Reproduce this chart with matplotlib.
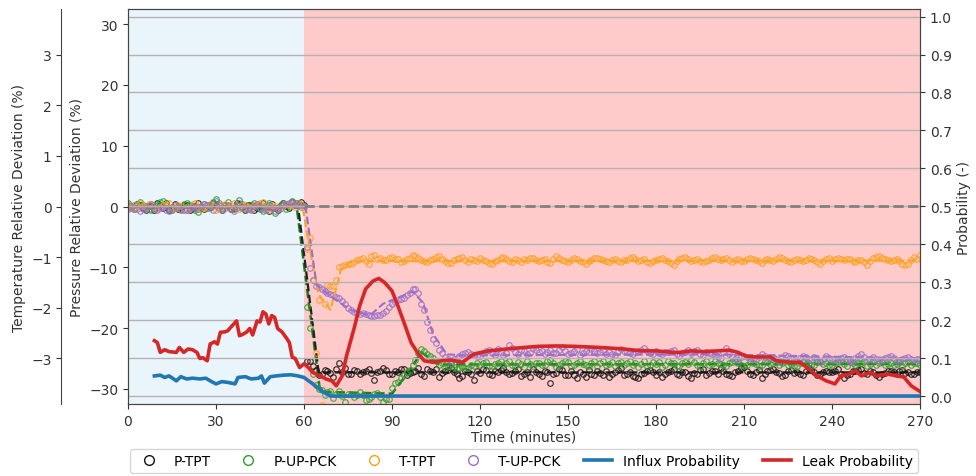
import numpy as np
import matplotlib
matplotlib.use("Agg")
import matplotlib.pyplot as plt
from matplotlib.lines import Line2D

# ---------------- data ----------------
time_min = np.arange(0, 271, 1)  # sample times (minutes), 271 samples

# Pressure relative deviation (%), one value per minute
p_tpt = [0.3, -0.1, -0.4, 0.4, 0.2, -0.3, -0.6, 0.1, 0.1, -0.5,
         0.5, 0.2, -0.2, 0.6, -0.5, -0.1, 0.4, -0.4, -0.1, 0.3,
         0.2, -0.5, -0.3, 0.1, 0.6, -0.2, -0.4, 0.3, -0.1, 0.5,
         0.3, -0.3, -0.6, 0.2, 0.1, -0.4, -0.2, 0.5, 0.4, -0.1,
         -0.5, 0.3, 0.2, -0.6, -0.3, 0.1, 0.5, -0.2, -0.7, 0.4,
         -0.2, -0.5, 0.3, 0.6, 0.1, -0.3, 0.7, 0.2, 0.5, 0.8,
         0.2, -25.4, -25.4, -26.3, -26.9, -27.8, -27.6, -26.9, -27.0, -27.4,
         -28.1, -26.8, -25.8, -27.3, -26.6, -27.5, -27.5, -26.9, -27.0, -27.6,
         -27.3, -27.0, -26.8, -27.4, -28.5, -27.2, -27.1, -26.6, -26.9, -27.5,
         -27.6, -27.1, -27.2, -26.8, -26.7, -27.7, -27.4, -27.2, -27.0, -26.6,
         -27.5, -27.9, -26.8, -27.1, -27.3, -26.7, -28.0, -27.4, -27.1, -26.9,
         -26.6, -27.3, -27.6, -28.2, -27.9, -27.0, -27.2, -27.5, -28.6, -27.1,
         -27.4, -26.8, -26.9, -27.5, -27.8, -27.0, -27.2, -26.9, -26.5, -27.3,
         -27.6, -27.4, -27.0, -26.7, -27.9, -27.5, -27.3, -28.0, -26.8, -27.2,
         -27.5, -27.9, -27.1, -27.3, -29.0, -27.6, -27.4, -26.8, -26.9, -27.7,
         -27.7, -27.1, -27.8, -28.2, -27.2, -27.5, -28.1, -26.9, -27.6, -27.8,
         -27.0, -27.4, -27.8, -27.1, -28.0, -27.6, -27.3, -26.9, -26.6, -27.8,
         -27.5, -27.2, -27.9, -28.1, -28.2, -27.6, -27.4, -27.0, -26.9, -27.3,
         -27.7, -27.2, -28.0, -27.6, -27.3, -27.0, -26.7, -27.5, -27.8, -27.2,
         -27.2, -27.9, -28.3, -27.4, -27.5, -26.9, -26.8, -27.7, -27.4, -27.1,
         -27.1, -27.5, -26.6, -27.0, -27.5, -27.8, -27.9, -27.2, -27.0, -26.6,
         -26.4, -27.1, -27.6, -27.8, -27.2, -26.9, -28.3, -27.5, -27.0, -26.9,
         -26.8, -27.2, -27.4, -27.9, -27.7, -27.0, -26.9, -27.4, -27.3, -27.6,
         -27.8, -27.1, -26.5, -26.9, -27.2, -27.8, -27.6, -27.3, -27.0, -27.2,
         -27.3, -27.0, -26.7, -27.5, -28.2, -27.8, -27.5, -27.0, -27.1, -26.9,
         -26.8, -27.4, -27.6, -27.0, -27.2, -27.7, -28.0, -27.5, -27.4, -27.0,
         -27.1, -27.3, -27.5, -27.0, -26.9, -27.4, -27.3, -27.5, -27.6, -27.3,
         -27.2]

p_up_pck = [0.5, 0.1, -0.3, 0.4, 0.8, 0.3, 0.1, -0.4, -0.6, 0.2,
            0.4, 0.7, 0.9, 0.2, -0.2, -0.5, 0.3, 0.1, -0.5, 0.4,
            0.6, 0.2, -0.1, -0.6, -0.9, 0.1, 0.4, -0.3, 0.2, 0.8,
            1.3, 0.5, -0.3, 0.2, 0.7, -0.2, -0.4, 0.3, 1.1, 0.4,
            -0.6, -0.2, 0.3, 0.5, 0.1, -0.4, -0.8, 0.2, 0.5, -0.3,
            -1.0, -0.4, 0.2, 0.6, -0.4, 0.1, 0.9, 0.5, 0.6, 0.3,
            0.1, -16.5, -20.0, -27.5, -29.4, -30.0, -30.2, -31.0, -30.6, -30.4,
            -31.5, -30.8, -30.3, -31.2, -32.2, -30.9, -30.8, -31.4, -31.1, -30.5,
            -31.0, -31.9, -31.6, -31.3, -30.9, -30.7, -31.3, -32.1, -31.7, -31.6,
            -29.8, -29.0, -28.8, -28.3, -27.8, -27.3, -26.9, -26.0, -25.3, -24.1,
            -23.4, -23.8, -24.2, -24.6, -24.9, -25.5, -26.1, -25.8, -26.6, -26.2,
            -25.9, -26.4, -26.8, -26.5, -26.2, -26.6, -26.5, -26.0, -26.3, -25.8,
            -26.0, -25.7, -25.6, -26.2, -26.3, -25.9, -25.8, -25.5, -26.1, -25.7,
            -25.4, -26.0, -26.2, -25.6, -25.9, -26.4, -25.5, -25.9, -26.3, -25.8,
            -25.7, -26.1, -26.0, -25.5, -25.3, -25.8, -26.4, -26.0, -25.8, -25.4,
            -25.6, -26.2, -26.1, -25.7, -25.4, -25.9, -26.0, -26.3, -25.7, -25.5,
            -26.2, -25.8, -25.5, -26.0, -25.9, -25.6, -26.3, -25.8, -25.6, -26.1,
            -25.8, -25.4, -26.0, -25.7, -26.4, -25.9, -25.4, -26.2, -26.1, -25.6,
            -25.9, -25.6, -26.4, -26.0, -25.5, -25.8, -25.8, -26.3, -26.2, -25.7,
            -25.6, -25.9, -25.3, -25.6, -26.0, -26.2, -25.7, -25.5, -26.1, -25.9,
            -25.4, -25.7, -25.9, -26.1, -26.2, -25.8, -25.6, -25.4, -25.8, -26.0,
            -26.3, -26.1, -25.5, -25.7, -25.9, -26.2, -26.0, -25.5, -25.6, -25.9,
            -25.8, -25.6, -26.1, -25.8, -25.4, -26.0, -25.9, -26.3, -26.2, -25.7,
            -25.6, -25.9, -25.7, -26.1, -26.0, -25.6, -25.5, -25.9, -25.8, -26.0,
            -26.1, -25.8, -25.6, -25.4, -25.9, -26.2, -25.3, -25.7, -26.0, -25.8,
            -25.7, -25.5, -26.2, -25.9, -25.5, -26.1, -25.8, -25.6, -26.1, -25.9,
            -25.7, -26.0, -25.9, -25.6, -26.2, -25.8, -25.6, -26.1, -25.8, -25.7,
            -26.0]

# Temperature relative deviation (%), one value per minute
t_tpt = [0.03, -0.01, -0.04, 0.02, 0.06, 0.01, -0.02, 0.04, 0.05, -0.03,
         -0.05, 0.00, 0.02, 0.05, 0.07, -0.02, -0.03, 0.03, 0.01, -0.04,
         -0.06, -0.02, 0.04, 0.06, 0.00, -0.04, -0.03, 0.02, 0.05, 0.01,
         -0.07, -0.03, 0.03, 0.05, -0.01, 0.02, 0.06, -0.02, -0.04, 0.03,
         0.02, -0.01, -0.05, 0.02, 0.04, 0.07, 0.08, -0.02, -0.06, 0.03,
         0.01, -0.04, -0.03, 0.01, 0.05, 0.02, 0.03, -0.01, 0.06, 0.04,
         -0.02, -0.83, -0.63, -1.45, -2.90, -1.85, -3.92, -1.92, -1.55, -1.56,
         -1.56, -1.46, -1.20, -1.17, -1.16, -1.13, -1.13, -1.09, -1.06, -1.04,
         -1.02, -1.08, -1.13, -0.98, -0.95, -1.03, -1.02, -1.05, -1.06, -1.01,
         -0.99, -1.04, -1.04, -1.09, -1.08, -1.03, -1.01, -0.96, -0.97, -1.02,
         -1.05, -1.08, -1.10, -1.06, -1.03, -0.99, -0.98, -1.04, -1.07, -1.11,
         -1.12, -1.06, -1.04, -1.02, -1.00, -1.05, -1.09, -1.03, -1.06, -1.08,
         -1.02, -1.05, -1.08, -1.12, -1.14, -1.07, -1.05, -1.01, -0.99, -1.04,
         -1.07, -1.09, -1.03, -1.06, -1.10, -1.04, -1.06, -1.02, -1.01, -1.05,
         -1.08, -1.06, -1.04, -1.09, -1.11, -1.03, -0.98, -1.02, -1.06, -1.08,
         -1.09, -1.05, -1.02, -1.04, -1.07, -1.10, -1.13, -1.08, -1.05, -1.02,
         -1.01, -1.04, -1.06, -1.08, -1.09, -1.05, -1.03, -1.07, -1.10, -1.06,
         -1.05, -1.01, -0.99, -1.04, -1.07, -1.05, -1.04, -1.09, -1.12, -1.08,
         -1.06, -1.03, -1.02, -1.05, -1.08, -1.12, -1.15, -1.08, -1.04, -1.01,
         -1.00, -1.04, -1.07, -1.05, -1.03, -1.07, -1.10, -1.08, -1.05, -1.02,
         -0.99, -1.03, -1.06, -1.04, -1.02, -1.06, -1.09, -1.06, -1.04, -1.07,
         -1.08, -1.04, -1.01, -1.03, -1.05, -1.08, -1.11, -1.06, -1.03, -1.05,
         -1.07, -1.03, -1.00, -1.02, -1.05, -1.08, -1.10, -1.06, -1.04, -1.06,
         -1.08, -1.05, -1.02, -1.04, -1.06, -1.10, -1.13, -1.07, -1.04, -1.02,
         -1.08, -1.04, -1.01, -1.03, -1.06, -1.04, -1.03, -1.07, -1.10, -1.06,
         -1.05, -1.10, -1.15, -1.07, -1.02, -1.00, -0.98, -1.01, -1.04, -1.06,
         -1.07, -1.05, -1.03, -1.08, -1.14, -1.16, -1.13, -1.05, -0.99, -1.03,
         -0.96]

t_up_pck = [-0.05, -0.02, 0.02, -0.04, -0.08, -0.05, -0.03, 0.01, 0.04, -0.02,
            -0.06, -0.03, -0.01, -0.06, -0.09, -0.04, 0.03, -0.01, -0.04, -0.07,
            -0.07, -0.03, 0.01, -0.02, -0.05, 0.01, 0.05, 0.02, -0.02, -0.06,
            0.10, 0.03, -0.06, -0.02, 0.03, -0.04, -0.08, -0.01, 0.06, -0.03,
            -0.03, -0.05, -0.07, 0.01, 0.04, -0.02, -0.05, -0.06, 0.02, -0.03,
            -0.08, -0.04, -0.02, 0.02, 0.05, 0.07, 0.08, 0.02, 0.03, -0.01,
            0.01, -0.80, -1.22, -1.45, -1.56, -1.58, -1.62, -1.66, -1.70, -1.72,
            -1.75, -1.78, -1.80, -1.86, -1.93, -2.00, -2.05, -2.08, -2.10, -2.12,
            -2.11, -2.13, -2.15, -2.17, -2.16, -2.15, -2.14, -2.10, -2.06, -1.98,
            -1.92, -1.88, -1.85, -1.82, -1.80, -1.74, -1.70, -1.62, -1.63, -1.70,
            -1.92, -2.05, -2.28, -2.44, -2.62, -2.70, -2.83, -2.90, -2.98, -3.02,
            -3.05, -3.02, -2.99, -2.95, -2.92, -2.90, -2.88, -2.91, -2.94, -2.96,
            -2.95, -2.90, -2.86, -2.84, -2.90, -2.93, -2.82, -2.87, -2.93, -2.90,
            -2.74, -2.80, -2.88, -2.92, -2.84, -2.86, -2.91, -2.89, -2.80, -2.83,
            -2.87, -2.85, -2.92, -2.88, -2.83, -2.90, -2.89, -2.84, -2.78, -2.86,
            -2.91, -2.89, -2.86, -2.82, -2.94, -2.90, -2.85, -2.88, -2.81, -2.86,
            -2.90, -2.87, -2.84, -2.91, -2.88, -2.92, -2.93, -2.86, -2.82, -2.85,
            -2.87, -2.90, -2.91, -2.87, -2.85, -2.83, -2.79, -2.86, -2.89, -2.92,
            -2.86, -2.90, -2.92, -2.88, -2.88, -2.85, -2.83, -2.91, -2.95, -2.90,
            -2.87, -2.84, -2.90, -2.86, -2.84, -2.91, -2.93, -2.88, -2.89, -2.92,
            -2.94, -2.97, -3.00, -2.88, -2.79, -2.92, -2.97, -3.01, -3.03, -2.98,
            -2.95, -2.97, -2.99, -3.02, -3.04, -2.97, -2.92, -2.96, -3.01, -2.98,
            -2.97, -3.02, -3.06, -2.99, -2.93, -2.96, -3.00, -3.03, -3.05, -3.00,
            -2.96, -2.98, -3.02, -3.04, -2.98, -3.01, -3.07, -3.03, -2.95, -2.99,
            -3.01, -3.03, -3.04, -3.00, -2.97, -3.02, -3.08, -3.05, -2.99, -2.95,
            -2.92, -2.97, -3.03, -3.01, -2.98, -3.02, -3.06, -3.04, -3.00, -2.97,
            -2.96, -3.00, -3.05, -3.03, -3.02, -2.99, -2.98, -3.01, -3.04, -3.02,
            -3.01]

# Dashed trend lines
p_tpt_fit_t = [0, 58, 65, 270]
p_tpt_fit = [0.0, 0.0, -27.3, -27.3]
p_up_fit_t = [0, 57.5, 65.5, 90, 96, 100, 106, 270]
p_up_fit = [0.0, 0.0, -30.5, -30.8, -27.0, -24.0, -26.0, -25.9]
t_tpt_fit_t = [0, 59.5, 62, 65, 69, 71, 72.5, 76, 270]
t_tpt_fit = [0.0, 0.0, -0.84, -1.74, -2.04, -1.62, -1.26, -1.08, -1.07]
t_up_fit_t = [0, 60.5, 64.3, 70, 75.8, 82.5, 87, 92, 97, 100.6, 104, 108.7, 115, 200, 270]
t_up_fit = [0.0, 0.0, -1.55, -1.81, -2.04, -2.15, -1.92, -1.80, -1.68, -1.90,
            -2.52, -2.92, -2.94, -2.92, -3.00]

# Probabilities
influx_t = [9, 11, 12.5, 14, 16.5, 18, 20, 22, 24.5, 26.5,
            28.5, 30, 32, 34, 36.5, 37.5, 40, 42, 44.5, 45.5,
            46.5, 48.5, 50.5, 53, 55.5, 58, 60, 63, 66, 69, 270]
influx_p = [0.053, 0.055, 0.049, 0.053, 0.040, 0.051, 0.045, 0.047, 0.045, 0.047,
            0.038, 0.032, 0.038, 0.036, 0.032, 0.049, 0.051, 0.045, 0.047, 0.053,
            0.034, 0.051, 0.053, 0.055, 0.056, 0.053, 0.049, 0.032, 0.014, 0.0, 0.0]

leak_t = [9, 10, 11, 12.5, 14, 16.5, 17.5, 19, 20.5, 22,
          23.5, 24.5, 25.5, 27, 28, 29.5, 30.5, 31.5, 33, 34,
          35, 37, 38, 39, 40.5, 41.5, 42.5, 44, 45, 46,
          47, 48, 49, 50, 51, 52.5, 54, 55, 56, 57,
          58.5, 60, 61.5, 63, 65.5, 67.5, 69.5, 71, 73, 74.5,
          77, 79, 81, 83.5, 85.5, 87.5, 90, 92, 94.5, 96.5,
          99, 101, 104, 107, 110, 114, 118, 123, 129, 135,
          140, 146, 152, 158, 163, 169, 175, 180, 186, 188,
          192, 196, 201, 205, 208, 211, 214, 219, 221, 226,
          229, 231.5, 235, 238, 241, 243, 246, 248, 250, 253,
          255, 259, 262, 264.5, 267, 270]
leak_p = [0.146, 0.141, 0.115, 0.122, 0.117, 0.115, 0.128, 0.115, 0.124, 0.122,
          0.115, 0.099, 0.101, 0.093, 0.137, 0.143, 0.137, 0.168, 0.169, 0.172,
          0.181, 0.198, 0.159, 0.162, 0.169, 0.178, 0.161, 0.198, 0.195, 0.222,
          0.216, 0.190, 0.212, 0.207, 0.178, 0.169, 0.153, 0.141, 0.102, 0.099,
          0.075, 0.085, 0.075, 0.062, 0.053, 0.045, 0.040, 0.027, 0.053, 0.106,
          0.176, 0.238, 0.282, 0.303, 0.310, 0.299, 0.277, 0.238, 0.185, 0.141,
          0.111, 0.093, 0.089, 0.093, 0.095, 0.089, 0.111, 0.119, 0.124, 0.128,
          0.131, 0.132, 0.131, 0.129, 0.127, 0.124, 0.119, 0.119, 0.115, 0.115,
          0.119, 0.117, 0.119, 0.121, 0.115, 0.104, 0.103, 0.103, 0.093, 0.089,
          0.089, 0.075, 0.053, 0.040, 0.032, 0.053, 0.058, 0.067, 0.053, 0.062,
          0.053, 0.058, 0.053, 0.050, 0.027, 0.012]

threshold_t = [60, 270]
threshold_p = [0.5, 0.5]

x_ticks = [0, 30, 60, 90, 120, 150, 180, 210, 240, 270]
p_ticks = [-30, -20, -10, 0, 10, 20, 30]
t_ticks = [-3, -2, -1, 0, 1, 2, 3]
prob_ticks = [0.0, 0.1, 0.2, 0.3, 0.4, 0.5, 0.6, 0.7, 0.8, 0.9, 1.0]

legend_labels = ["P-TPT", "P-UP-PCK", "T-TPT", "T-UP-PCK", "Influx Probability", "Leak Probability"]

# ---------------- styling ----------------
C_BLACK = "#111111"
C_GREEN = "#2ca02c"
C_ORANGE = "#ff9f1c"
C_PURPLE = "#9a6fc7"
C_BLUE = "#1f77b4"
C_RED = "#d62728"
TXT = "#333333"

plt.rcParams["font.family"] = ["DejaVu Sans"]
plt.rcParams["font.size"] = 10

fig = plt.figure(figsize=(9.76, 4.77), dpi=100)
ax = fig.add_axes([128 / 976, 72 / 477, 792 / 976, 395 / 477])
ax.set_xlim(0, 270)
ax.set_ylim(-32.5, 32.5)
ax.axvspan(0, 60, color="#eaf4fb", zorder=0, lw=0)
ax.axvspan(60, 270, color="#ffcaca", zorder=0, lw=0)

mk = dict(linestyle="none", marker="o", mfc="none", ms=4.0, mew=0.85, alpha=0.85)
ax.plot(p_up_fit_t, p_up_fit, color="#1f7a1f", ls="--", lw=1.8, zorder=2)
ax.plot(p_tpt_fit_t, p_tpt_fit, color="#222222", ls="--", lw=1.6, zorder=2)
ax.plot(time_min, p_tpt, mec=C_BLACK, zorder=3, **mk)
ax.plot(time_min, p_up_pck, mec=C_GREEN, zorder=3, **mk)

ax.set_xticks(x_ticks)
ax.set_yticks(p_ticks)
ax.set_xlabel("Time (minutes)", color=TXT, labelpad=1.5)
ax.set_ylabel("Pressure Relative Deviation (%)", color=TXT)

# temperature axis (offset on the left)
ax_t = ax.twinx()
ax_t.set_ylim(-3.9, 3.9)
ax_t.yaxis.tick_left()
ax_t.yaxis.set_label_position("left")
ax_t.spines["left"].set_position(("outward", 48))
for s in ["right", "top", "bottom"]:
    ax_t.spines[s].set_visible(False)
ax_t.set_yticks(t_ticks)
ax_t.set_ylabel("Temperature Relative Deviation (%)", color=TXT)
ax_t.plot(time_min, t_tpt, mec=C_ORANGE, zorder=3, **mk)
ax_t.plot(time_min, t_up_pck, mec=C_PURPLE, zorder=3, **mk)
ax_t.plot(t_tpt_fit_t, t_tpt_fit, color="#f5a623", ls="--", lw=1.5, zorder=4)
ax_t.plot(t_up_fit_t, t_up_fit, color=C_PURPLE, ls="--", lw=1.5, zorder=4)

# probability axis
ax2 = ax.twinx()
ax2.set_ylim(-0.021, 1.02)
ax2.set_yticks(prob_ticks)
ax2.set_yticklabels([f"{v:.1f}" for v in prob_ticks])
ax2.grid(True, axis="y", color="#b3b3b3", lw=1.0)
ax2.set_ylabel("Probability (-)", color=TXT)
ax2.plot(threshold_t, threshold_p, color="#808080", ls="--", lw=2.0, zorder=2)
ax2.plot(influx_t, influx_p, color=C_BLUE, lw=2.6, zorder=3)
ax2.plot(leak_t, leak_p, color=C_RED, lw=2.6, zorder=4)

for a in (ax, ax_t, ax2):
    a.tick_params(colors=TXT, labelsize=10)
    for s in a.spines.values():
        s.set_color("#444444")

handles = [
    Line2D([], [], ls="none", marker="o", mfc="none", mec=C_BLACK, ms=7, mew=1.0),
    Line2D([], [], ls="none", marker="o", mfc="none", mec=C_GREEN, ms=7, mew=1.0),
    Line2D([], [], ls="none", marker="o", mfc="none", mec=C_ORANGE, ms=7, mew=1.0),
    Line2D([], [], ls="none", marker="o", mfc="none", mec=C_PURPLE, ms=7, mew=1.0),
    Line2D([], [], color=C_BLUE, lw=2.6),
    Line2D([], [], color=C_RED, lw=2.6),
]
fig.legend(handles, legend_labels, loc="upper center",
           bbox_to_anchor=(524 / 976, 1 - 450 / 477), ncol=6, fontsize=10,
           frameon=True, edgecolor="#cccccc", columnspacing=1.7,
           borderaxespad=0, borderpad=0.35)

fig.savefig("out.png", dpi=100)
